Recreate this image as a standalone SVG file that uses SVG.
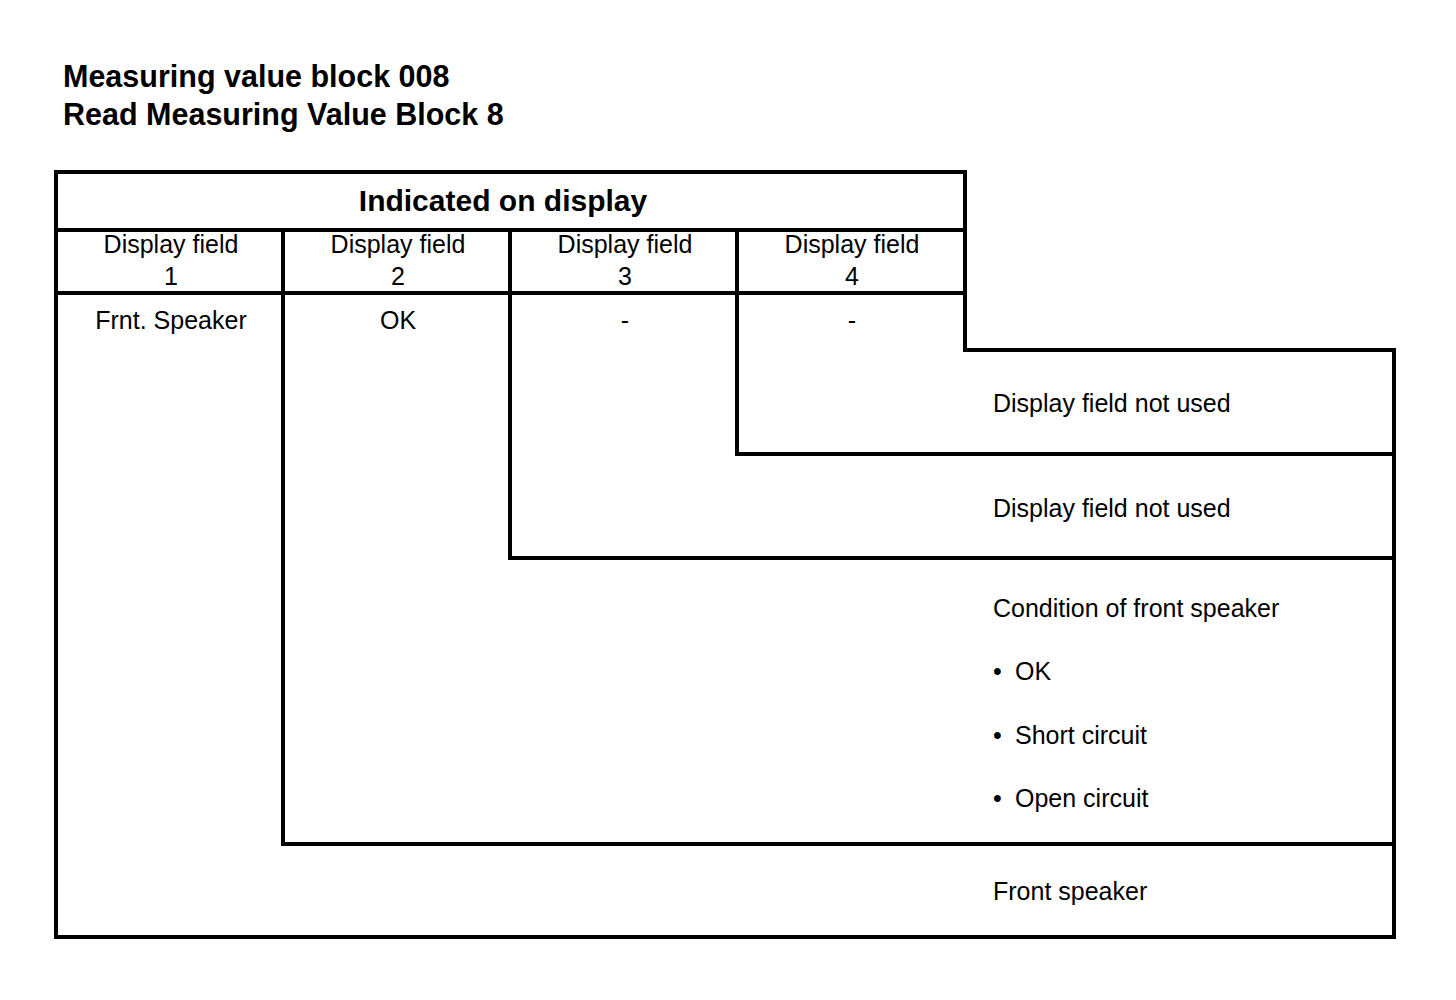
<svg xmlns="http://www.w3.org/2000/svg" width="1456" height="1000" viewBox="0 0 1456 1000">
<style>
.ln{fill:none;stroke:#000;stroke-width:4;stroke-linecap:square;stroke-linejoin:miter}
.t{font-family:"Liberation Sans",Arial,sans-serif;font-size:25px;fill:#000}
.b{font-family:"Liberation Sans",Arial,sans-serif;font-size:30px;font-weight:bold;fill:#000}
.h{font-size:30.5px}
.c{text-anchor:middle}
</style>
<rect width="1456" height="1000" fill="#fff"/>
<g id="title">
<text class="b h" x="63" y="87">Measuring value block 008</text>
<text class="b h" x="63" y="125">Read Measuring Value Block 8</text>
</g>
<g id="connectors">
<path class="ln" d="M56 172 H965 V350 H1394 V937 H56 Z"/>
<path class="ln" d="M56 230 H965"/>
<path class="ln" d="M56 293 H965"/>
<path class="ln" d="M283 230 V844 H1394"/>
<path class="ln" d="M510 230 V558 H1394"/>
<path class="ln" d="M737 230 V454 H1394"/>
</g>
<g id="header">
<text class="b c" x="503" y="211">Indicated on display</text>
</g>
<g id="field1">
<text class="t c" x="171" y="253">Display field</text>
<text class="t c" x="171" y="285">1</text>
<text class="t c" x="171" y="329">Frnt. Speaker</text>
</g>
<g id="field2">
<text class="t c" x="398" y="253">Display field</text>
<text class="t c" x="398" y="285">2</text>
<text class="t c" x="398" y="329">OK</text>
</g>
<g id="field3">
<text class="t c" x="625" y="253">Display field</text>
<text class="t c" x="625" y="285">3</text>
<text class="t c" x="625" y="329">-</text>
</g>
<g id="field4">
<text class="t c" x="852" y="253">Display field</text>
<text class="t c" x="852" y="285">4</text>
<text class="t c" x="852" y="329">-</text>
</g>
<g id="desc4">
<text class="t" x="993" y="412">Display field not used</text>
</g>
<g id="desc3">
<text class="t" x="993" y="517">Display field not used</text>
</g>
<g id="desc2">
<text class="t" x="993" y="617">Condition of front speaker</text>
<text class="t" x="993" y="680">•</text><text class="t" x="1015" y="680">OK</text>
<text class="t" x="993" y="744">•</text><text class="t" x="1015" y="744">Short circuit</text>
<text class="t" x="993" y="807">•</text><text class="t" x="1015" y="807">Open circuit</text>
</g>
<g id="desc1">
<text class="t" x="993" y="900">Front speaker</text>
</g>
</svg>
